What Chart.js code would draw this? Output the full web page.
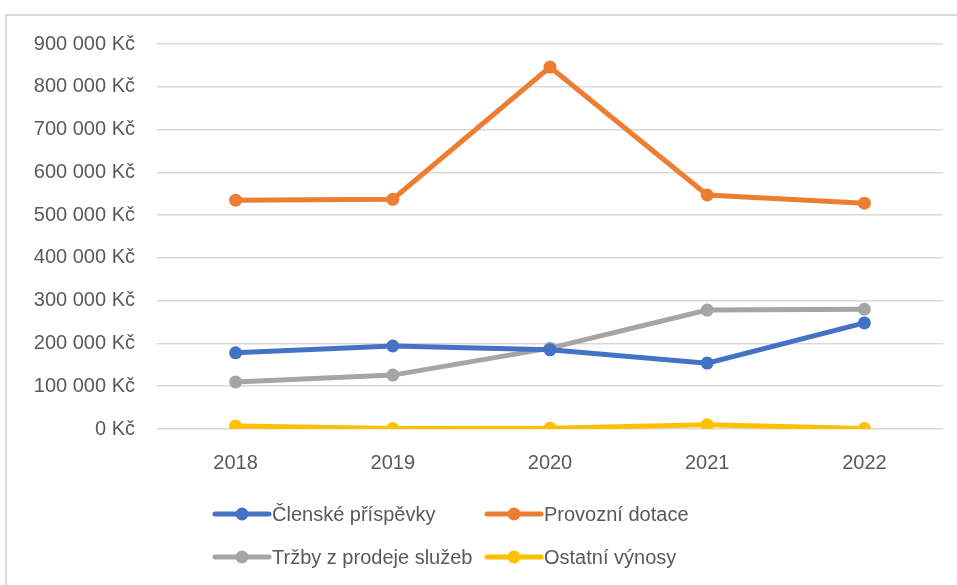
<!DOCTYPE html>
<html>
<head>
<meta charset="utf-8">
<script src="https://cdn.jsdelivr.net/npm/chart.js@4/dist/chart.umd.min.js"></script>
<style>
  html, body { margin: 0; padding: 0; background: #fff; overflow: hidden; }
  #frame { position: absolute; left: 5px; top: 14px; width: 1000px; height: 700px;
           border-left: 2px solid #d9d9d9; border-top: 2px solid #d9d9d9; }
  #wrap { position: absolute; left: 0; top: 0; width: 957px; height: 585px; }
</style>
</head>
<body>
<div id="frame"></div>
<div id="wrap"><canvas id="myChart" width="957" height="585"></canvas></div>
<script>
const years = ['2018', '2019', '2020', '2021', '2022'];
const clenskePrispevky = [178000, 194000, 185000, 154000, 248000];
const provozniDotace = [535000, 537000, 846000, 547000, 528000];
const trzbySluzby = [110000, 126000, 189000, 278000, 280000];
const ostatniVynosy = [7000, 1000, 2000, 10000, 1000];
const seriesNames = ['Členské příspěvky', 'Provozní dotace', 'Tržby z prodeje služeb', 'Ostatní výnosy'];
const yTicks = [0, 100000, 200000, 300000, 400000, 500000, 600000, 700000, 800000, 900000];

const colors = ['#4472C4', '#ED7D31', '#A5A5A5', '#FFC000'];
const textColor = '#595959';
const fontFamily = '"Liberation Sans", Arial, sans-serif';

const formatKc = (v) => {
  const s = String(Math.round(v)).replace(/\B(?=(\d{3})+(?!\d))/g, ' ');
  return s + ' Kč';
};

// legend drawn by hand, two columns like the Excel original
const legendPlugin = {
  id: 'excelLegend',
  afterDraw(chart) {
    const ctx = chart.ctx;
    const cols = [215, 487];
    const rows = [514, 557];
    ctx.save();
    ctx.font = '20px ' + fontFamily;
    ctx.textBaseline = 'middle';
    chart.data.datasets.forEach((ds, i) => {
      const x = cols[i % 2];
      const y = rows[Math.floor(i / 2)];
      ctx.strokeStyle = ds.borderColor;
      ctx.lineWidth = 5;
      ctx.lineCap = 'round';
      ctx.beginPath();
      ctx.moveTo(x, y);
      ctx.lineTo(x + 54, y);
      ctx.stroke();
      ctx.fillStyle = ds.borderColor;
      ctx.beginPath();
      ctx.arc(x + 27, y, 6.5, 0, Math.PI * 2);
      ctx.fill();
      ctx.fillStyle = textColor;
      ctx.fillText(ds.label, x + 57, y + 1);
    });
    ctx.restore();
  }
};

const allData = [clenskePrispevky, provozniDotace, trzbySluzby, ostatniVynosy];

const ctx = document.getElementById('myChart').getContext('2d');
const chart = new Chart(ctx, {
  type: 'line',
  data: {
    labels: years,
    datasets: seriesNames.map((name, i) => ({
      label: name,
      data: allData[i],
      borderColor: colors[i],
      backgroundColor: colors[i],
      borderWidth: 5,
      pointRadius: 6.5,
      pointBorderWidth: 0,
      pointHoverRadius: 6.5,
      tension: 0
    }))
  },
  options: {
    responsive: false,
    animation: false,
    layout: { padding: { top: 44, right: 14, bottom: 0, left: 0 } },
    plugins: {
      legend: { display: false },
      tooltip: { enabled: false }
    },
    scales: {
      x: {
        offset: true,
        grid: { display: false },
        border: { display: false },
        ticks: { color: textColor, font: { family: fontFamily, size: 20 }, padding: 14 },
        afterFit(scale) { scale.height = 156; }
      },
      y: {
        min: 0,
        max: 900000,
        afterBuildTicks(scale) { scale.ticks = yTicks.map(v => ({ value: v })); },
        grid: { color: '#d9d9d9', lineWidth: 1.5, drawTicks: false },
        border: { display: false },
        ticks: {
          color: textColor,
          font: { family: fontFamily, size: 20 },
          padding: 22,
          callback: (v) => formatKc(v)
        },
        afterFit(scale) { scale.width = 157; }
      }
    }
  },
  plugins: [legendPlugin]
});
</script>
</body>
</html>
